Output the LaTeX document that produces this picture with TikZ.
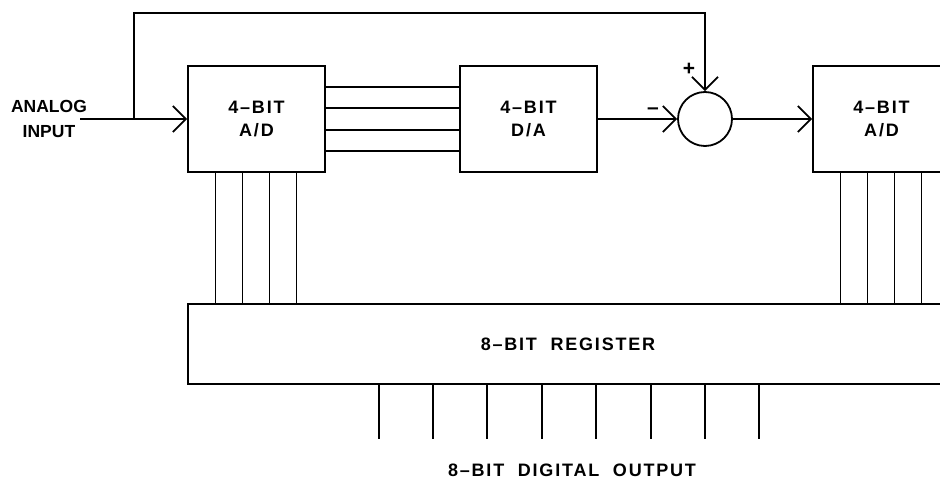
\documentclass[tikz,border=0pt]{standalone}
\usepackage{fontspec}
\newfontfamily\lbl{Liberation Sans}[LetterSpace=10]
\newfontfamily\plainf{Liberation Sans}
\usetikzlibrary{arrows.meta}
\tikzset{
  blk/.style={draw, minimum width=137pt, minimum height=106pt, inner sep=0pt, align=center,
    font=\lbl\bfseries\fontsize{18}{23}\selectfont},
  arr/.style={-{Straight Barb[length=13pt,width=26pt]}},
  lab/.style={font=\lbl\bfseries\fontsize{18}{23}\selectfont, inner sep=0pt},
  plab/.style={font=\plainf\bfseries\fontsize{17.5}{25}\selectfont, inner sep=0pt, align=center},
  sign/.style={font=\plainf\bfseries\fontsize{21}{25}\selectfont, inner sep=0pt},
  sumnode/.style={draw, circle, minimum size=54pt, inner sep=0pt}
}
\begin{document}
\begin{tikzpicture}[x=1pt, y=-1pt, line width=1.8pt]
\useasboundingbox (0,0) rectangle (940,486);
\clip (0,0) rectangle (940,486);

\node[blk] (ad1) at (256.5,119) {4\textendash BIT\\A/D};
\node[blk] (da) at (528.5,119) {4\textendash BIT\\D/A};
\node[sumnode] (sum) at (705,119) {};
\node[blk] (ad2) at (881.5,119) {4\textendash BIT\\A/D};
\node[blk, minimum width=760pt, minimum height=80pt] (reg) at (568,344) {8\textendash BIT\ \ REGISTER};
\node[plab] (in) at (49,119) {ANALOG\\INPUT};

\coordinate (src) at (80,119);
\coordinate (j) at (134,119);
\coordinate (fb) at (134,13);

\draw[arr] (src) -- (ad1.west);
\draw[arr] (j) -- (fb) -| (sum.north);
\foreach \dy in {32,11,-11,-32}
  \draw ([yshift=\dy pt]ad1.east) -- ([yshift=\dy pt]da.west);
\draw[arr] (da.east) -- (sum.west);
\draw[arr] (sum.east) -- (ad2.west);
\foreach \dx in {-41,-14,13,40} {
  \draw ([xshift=\dx pt]ad1.south) coordinate (t) -- (t |- reg.north);
  \draw ([xshift=\dx pt]ad2.south) coordinate (u) -- (u |- reg.north);
}
\foreach \dx in {-189,-135,-81,-26,28,83,137,191}
  \draw ([xshift=\dx pt]reg.south) -- ++(0,54);

\node[sign] (minus) at (653,111) {\textendash};
\node[sign] (plus) at (689,69) {+};
\node[lab] (out) at (572,470) {8\textendash BIT\ \ DIGITAL\ \ OUTPUT};
\end{tikzpicture}
\end{document}
